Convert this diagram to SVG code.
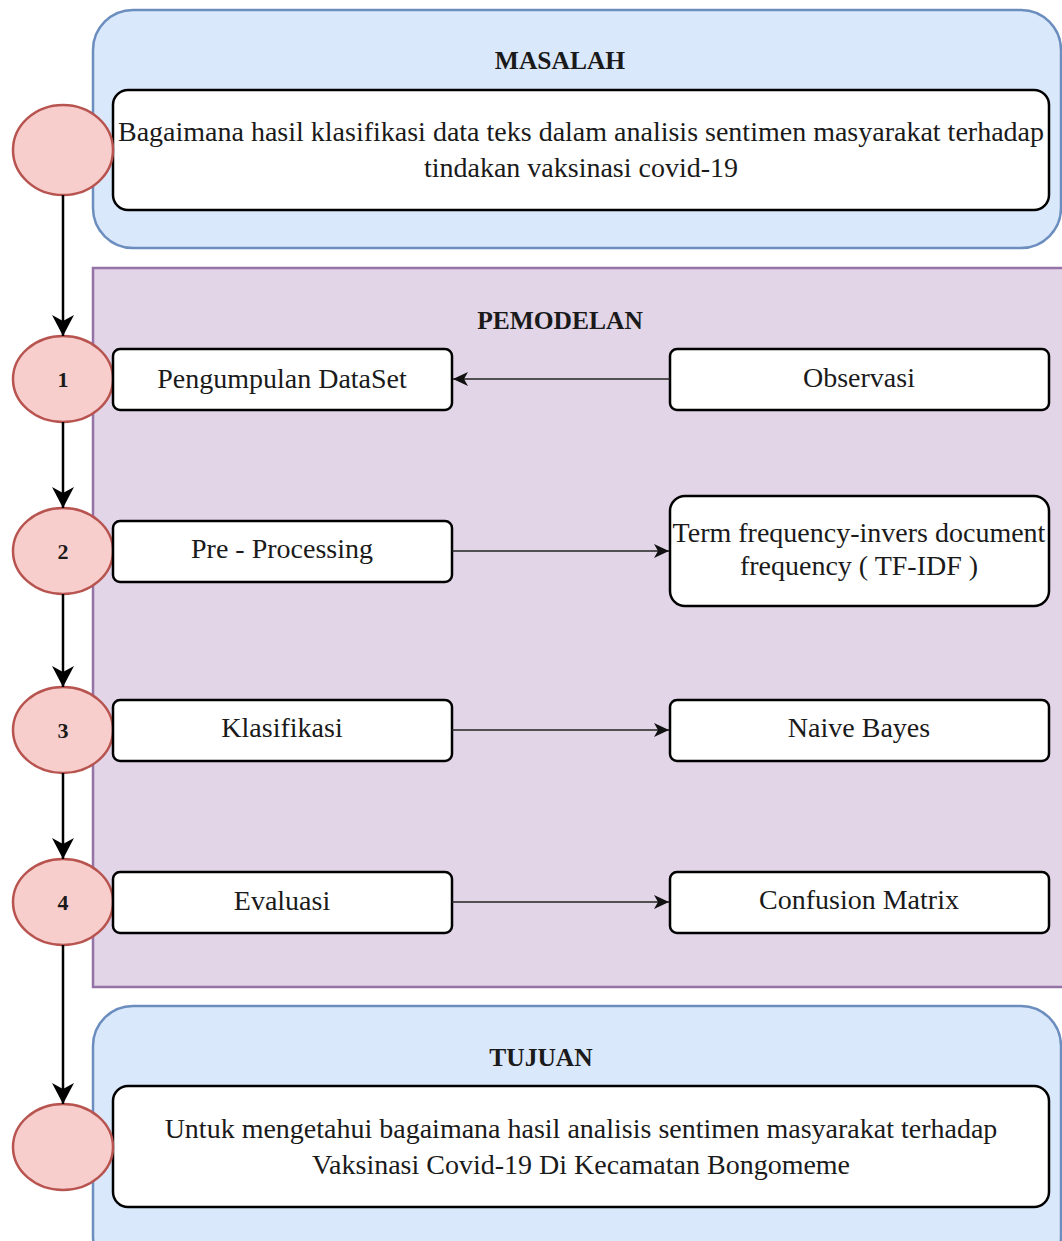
<svg xmlns="http://www.w3.org/2000/svg" width="1062" height="1241" viewBox="0 0 1062 1241">
<defs>
<style>
.blue{fill:#dae8fc;stroke:#6c8ebf;stroke-width:2.5}
.purple{fill:#e1d5e7;stroke:#9673a6;stroke-width:2.5}
.box{fill:#fff;stroke:#000;stroke-width:2.5}
.circ{fill:#f8cecc;stroke:#b85450;stroke-width:2.5}
.t{font-family:"Liberation Serif","Times New Roman",serif;font-size:28px;fill:#1a1a1a;text-anchor:middle}
.h{font-family:"Liberation Serif","Times New Roman",serif;font-size:25.5px;font-weight:bold;fill:#1a1a1a;text-anchor:middle}
.n{font-family:"Liberation Serif","Times New Roman",serif;font-size:22px;font-weight:bold;fill:#1a1a1a;text-anchor:middle}
.v{fill:none;stroke:#000;stroke-width:2.5}
.hz{fill:none;stroke:#222;stroke-width:1.5}
</style>
<marker id="big" markerUnits="userSpaceOnUse" markerWidth="24" markerHeight="24" refX="21" refY="11" orient="auto" viewBox="0 0 24 24">
<path d="M0,0 L21,11 L0,22 L6,11 z" fill="#000"/>
</marker>
<marker id="small" markerUnits="userSpaceOnUse" markerWidth="18" markerHeight="18" refX="15" refY="7" orient="auto" viewBox="0 0 18 18">
<path d="M0,0 L15,7 L0,14 L4,7 z" fill="#111"/>
</marker>
</defs>

<g id="container-masalah">
<rect class="blue" x="93" y="10" width="968" height="238" rx="40"/>
<text class="h" x="560" y="69">MASALAH</text>
</g>
<g id="container-pemodelan">
<rect class="purple" x="93" y="268" width="1000" height="719"/>
<text class="h" x="560" y="329">PEMODELAN</text>
</g>
<g id="container-tujuan">
<rect class="blue" x="93" y="1006" width="968" height="270" rx="40"/>
<text class="h" x="541" y="1066">TUJUAN</text>
</g>

<g id="masalah-box">
<rect class="box" x="113" y="90" width="936" height="120" rx="15"/>
<text class="t" x="581" y="141">Bagaimana hasil klasifikasi data teks dalam analisis sentimen masyarakat terhadap</text>
<text class="t" x="581" y="177">tindakan vaksinasi covid-19</text>
</g>
<g id="tujuan-box">
<rect class="box" x="113" y="1086" width="936" height="121" rx="15"/>
<text class="t" x="581" y="1138">Untuk mengetahui bagaimana hasil analisis sentimen masyarakat terhadap</text>
<text class="t" x="581" y="1174">Vaksinasi Covid-19 Di Kecamatan Bongomeme</text>
</g>

<g id="circle-top"><ellipse class="circ" cx="63" cy="150" rx="50" ry="45"/></g>
<g id="circle-1"><ellipse class="circ" cx="63" cy="379" rx="50" ry="43"/><text class="n" x="63" y="387">1</text></g>
<g id="circle-2"><ellipse class="circ" cx="63" cy="551" rx="50" ry="43"/><text class="n" x="63" y="559">2</text></g>
<g id="circle-3"><ellipse class="circ" cx="63" cy="730" rx="50" ry="43"/><text class="n" x="63" y="738">3</text></g>
<g id="circle-4"><ellipse class="circ" cx="63" cy="902" rx="50" ry="43"/><text class="n" x="63" y="910">4</text></g>
<g id="circle-bottom"><ellipse class="circ" cx="63" cy="1147" rx="50" ry="43"/></g>

<g id="step-pengumpulan"><rect class="box" x="113" y="349" width="339" height="61" rx="7"/><text class="t" x="282" y="388">Pengumpulan DataSet</text></g>
<g id="step-preprocessing"><rect class="box" x="113" y="521" width="339" height="61" rx="7"/><text class="t" x="282" y="558">Pre - Processing</text></g>
<g id="step-klasifikasi"><rect class="box" x="113" y="700" width="339" height="61" rx="7"/><text class="t" x="282" y="737">Klasifikasi</text></g>
<g id="step-evaluasi"><rect class="box" x="113" y="872" width="339" height="61" rx="7"/><text class="t" x="282" y="910">Evaluasi</text></g>

<g id="observasi"><rect class="box" x="670" y="349" width="379" height="61" rx="7"/><text class="t" x="859" y="387">Observasi</text></g>
<g id="tfidf"><rect class="box" x="670" y="496" width="379" height="110" rx="15"/><text class="t" x="859" y="542">Term frequency-invers document</text><text class="t" x="859" y="575">frequency ( TF-IDF )</text></g>
<g id="naive-bayes"><rect class="box" x="670" y="700" width="379" height="61" rx="7"/><text class="t" x="859" y="737">Naive Bayes</text></g>
<g id="confusion"><rect class="box" x="670" y="872" width="379" height="61" rx="7"/><text class="t" x="859" y="909">Confusion Matrix</text></g>

<g id="connectors">
<line class="v" x1="63" y1="195" x2="63" y2="336" marker-end="url(#big)"/>
<line class="v" x1="63" y1="422" x2="63" y2="508" marker-end="url(#big)"/>
<line class="v" x1="63" y1="594" x2="63" y2="687" marker-end="url(#big)"/>
<line class="v" x1="63" y1="773" x2="63" y2="859" marker-end="url(#big)"/>
<line class="v" x1="63" y1="945" x2="63" y2="1104" marker-end="url(#big)"/>
<line class="hz" x1="670" y1="379" x2="453" y2="379" marker-end="url(#small)"/>
<line class="hz" x1="452" y1="551" x2="669" y2="551" marker-end="url(#small)"/>
<line class="hz" x1="452" y1="730" x2="669" y2="730" marker-end="url(#small)"/>
<line class="hz" x1="452" y1="902" x2="669" y2="902" marker-end="url(#small)"/>
</g>
</svg>
